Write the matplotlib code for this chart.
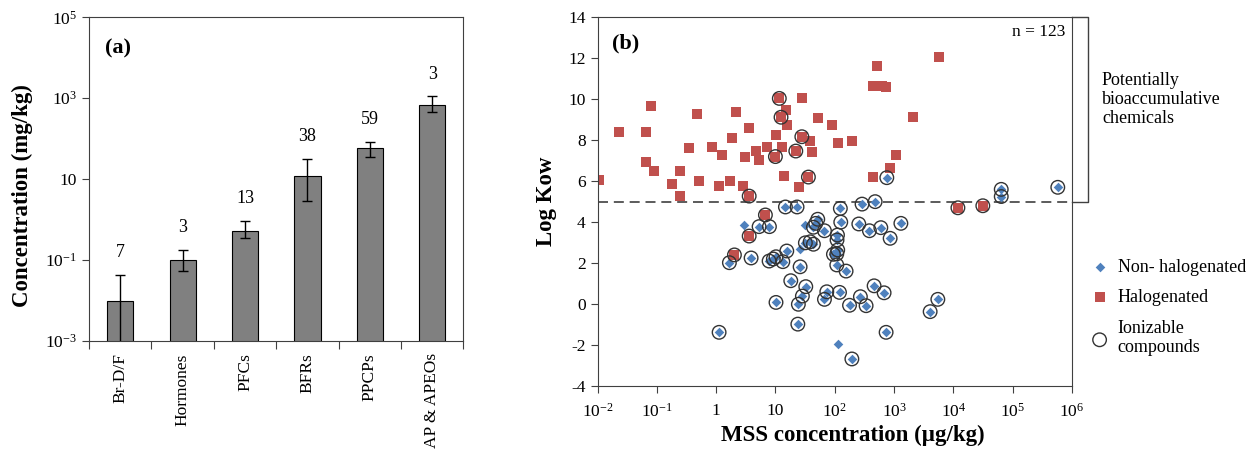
import numpy as np
import matplotlib.pyplot as plt
from matplotlib.ticker import NullLocator

plt.rcParams["font.family"] = ["Liberation Serif", "DejaVu Serif"]
plt.rcParams["mathtext.fontset"] = "custom"
plt.rcParams["mathtext.rm"] = "Liberation Serif"
plt.rcParams["mathtext.it"] = "Liberation Serif:italic"
plt.rcParams["mathtext.bf"] = "Liberation Serif:bold"
plt.rcParams["axes.unicode_minus"] = False

# Panel (a): concentraciones por grupo
categorias = ["Br-D/F", "Hormones", "PFCs", "BFRs", "PPCPs", "AP & APEOs"]
concentracion = np.array([0.0098, 0.10, 0.52, 11.7, 59.0, 660.0])
error_inferior = np.array([0.0004, 0.052, 0.35, 2.8, 35.0, 467.0])
error_superior = np.array([0.042, 0.176, 0.93, 31.6, 83.0, 1100.0])
n_compuestos = [7, 3, 13, 38, 59, 3]

# Panel (b): halogenados (x = MSS ug/kg, y = log Kow, ionizable 1/0)
hal_x = [0.0107, 0.023, 0.066, 0.080, 0.066, 0.090, 0.18, 0.25, 0.25, 0.35,
         0.48, 0.52, 0.84, 1.1, 1.24, 1.71, 1.83, 2.14, 2.8, 3.03,
         3.59, 3.6, 4.71, 5.3, 7.2, 9.97, 10.2, 11.6, 15.1, 12.4,
         15.8, 13.1, 14.1, 22.0, 28.4, 27.8, 38.4, 41.0, 25.3, 35.9,
         53.0, 89.0, 112.0, 196.0, 437.0, 510.0, 448.0, 620.0, 725.0, 857.0,
         1080.0, 2120.0, 5800.0, 11900.0, 31300.0, 6.76, 3.6, 2.03]
hal_y = [6.04, 8.4, 8.4, 9.65, 6.93, 6.48, 5.85, 5.29, 6.48, 7.63,
         9.26, 6.0, 7.68, 5.75, 7.27, 6.0, 8.09, 9.36, 5.76, 7.19,
         8.61, 5.27, 7.49, 7.03, 7.68, 7.2, 8.27, 10.04, 9.47, 9.12,
         8.74, 7.68, 6.25, 7.47, 10.04, 8.17, 7.96, 7.41, 5.7, 6.2,
         9.07, 8.76, 7.88, 7.96, 6.2, 11.62, 10.63, 10.63, 10.58, 6.63,
         7.27, 9.12, 12.05, 4.7, 4.8, 4.35, 3.32, 2.4]
hal_ion = [0, 0, 0, 0, 0, 0, 0, 0, 0, 0,
           0, 0, 0, 0, 0, 0, 0, 0, 0, 0,
           0, 1, 0, 0, 0, 1, 0, 1, 0, 1,
           0, 0, 0, 1, 0, 1, 0, 0, 0, 1,
           0, 0, 0, 0, 0, 0, 0, 0, 0, 0,
           0, 0, 0, 1, 1, 1, 1, 1]

# Panel (b): no halogenados
nohal_x = [14.7, 23.1, 124.0, 288.0, 479.0, 753.0, 64000.0, 64000.0, 575000.0, 2.99,
           5.29, 7.9, 31.6, 51.6, 43.6, 47.8, 66.9, 126.0, 254.0, 383.0,
           597.0, 1300.0, 857.0, 111.0, 109.0, 112.0, 94.8, 108.0, 108.0, 155.0,
           31.9, 38.4, 43.6, 26.0, 15.5, 10.2, 7.8, 13.3, 9.2, 3.88,
           1.67, 26.0, 18.1, 32.4, 28.4, 24.3, 10.2, 73.3, 66.9, 120.0,
           177.0, 270.0, 337.0, 460.0, 678.0, 23.8, 1.12, 733.0, 115.0, 194.0,
           4050.0, 5460.0]
nohal_y = [4.74, 4.74, 4.67, 4.88, 5.0, 6.17, 5.6, 5.25, 5.7, 3.86,
           3.78, 3.78, 3.86, 4.14, 3.75, 3.94, 3.58, 4.0, 3.91, 3.58,
           3.73, 3.94, 3.21, 3.37, 3.13, 2.64, 2.43, 2.45, 1.91, 1.61,
           2.99, 3.04, 2.92, 2.67, 2.59, 2.31, 2.1, 2.07, 2.2, 2.25,
           2.02, 1.82, 1.14, 0.85, 0.39, -0.01, 0.08, 0.6, 0.23, 0.57,
           -0.06, 0.36, -0.08, 0.89, 0.55, -0.98, -1.38, -1.38, -1.95, -2.68,
           -0.37, 0.23]
nohal_ion = [1, 1, 1, 1, 1, 1, 1, 1, 1, 0,
             1, 1, 0, 1, 1, 1, 1, 1, 1, 1,
             1, 1, 1, 1, 1, 1, 1, 1, 1, 1,
             1, 1, 1, 0, 1, 1, 1, 1, 1, 1,
             1, 1, 1, 1, 1, 1, 1, 1, 1, 1,
             1, 1, 1, 1, 1, 1, 1, 1, 0, 1,
             1, 1]

umbral_kow = 5
n_total = 123

x_ticks_b = [1e-2, 1e-1, 1, 10, 1e2, 1e3, 1e4, 1e5, 1e6]
x_labels_b = ["10$^{-2}$", "10$^{-1}$", "1", "10", "10$^{2}$", "10$^{3}$",
              "10$^{4}$", "10$^{5}$", "10$^{6}$"]
y_ticks_a = [1e-3, 1e-1, 10, 1e3, 1e5]
y_labels_a = ["10$^{-3}$", "10$^{-1}$", "10", "10$^{3}$", "10$^{5}$"]

COLOR_EJE = "#404040"
AZUL = "#4F81BD"
ROJO = "#C0504D"

fig = plt.figure(figsize=(12.47, 4.54), dpi=100)

# ---------------- Panel (a) ----------------
ax1 = fig.add_axes([0.0714, 0.2496, 0.3002, 0.7123])
x = np.arange(len(categorias))
ax1.bar(x, concentracion, width=0.42, color="#808080", edgecolor="black",
        linewidth=0.8, zorder=2)
yerr = [concentracion - error_inferior, error_superior - concentracion]
ax1.errorbar(x, concentracion, yerr=yerr, fmt="none", ecolor="black",
             elinewidth=1, capsize=3.5, capthick=1, zorder=3)
for xi, top, n in zip(x, error_superior, n_compuestos):
    ax1.annotate(str(n), (xi, top), xytext=(0, 16), textcoords="offset points",
                 ha="center", va="center", fontsize=13)

ax1.set_yscale("log")
ax1.set_ylim(1e-3, 1e5)
ax1.set_xlim(-0.5, len(categorias) - 0.5)
ax1.set_yticks(y_ticks_a)
ax1.set_yticklabels(y_labels_a)
ax1.yaxis.set_minor_locator(NullLocator())
ax1.set_xticks(np.arange(-0.5, len(categorias), 1))
ax1.set_xticklabels([])
ax1.set_xticks(x, minor=True)
ax1.set_xticklabels(categorias, minor=True, rotation=90, fontsize=12.5)
ax1.tick_params(axis="x", which="major", direction="out", length=6,
                color=COLOR_EJE)
ax1.tick_params(axis="x", which="minor", length=0, pad=9)
ax1.tick_params(axis="y", direction="out", length=5, labelsize=12.5,
                color=COLOR_EJE)
for s in ax1.spines.values():
    s.set_color(COLOR_EJE)
ax1.set_ylabel("Concentration (mg/kg)", fontsize=16.5, fontweight="bold")
ax1.yaxis.set_label_coords(-0.15, 0.45)
ax1.text(0.043, 0.905, "(a)", transform=ax1.transAxes, fontsize=16,
         fontweight="bold", ha="left", va="center")

# ---------------- Panel (b) ----------------
ax2 = fig.add_axes([0.4792, 0.1498, 0.3805, 0.8121])
hal_x = np.array(hal_x)
hal_y = np.array(hal_y)
nohal_x = np.array(nohal_x)
nohal_y = np.array(nohal_y)
ion_x = np.concatenate([hal_x[np.array(hal_ion) == 1], nohal_x[np.array(nohal_ion) == 1]])
ion_y = np.concatenate([hal_y[np.array(hal_ion) == 1], nohal_y[np.array(nohal_ion) == 1]])

ax2.axhline(umbral_kow, color=COLOR_EJE, ls=(0, (6, 3.5)), lw=1.2, zorder=1)
h_hal = ax2.scatter(hal_x, hal_y, marker="s", s=48, color=ROJO, linewidths=0,
                    zorder=2, label="Halogenated")
h_nohal = ax2.scatter(nohal_x, nohal_y, marker="D", s=24, color=AZUL,
                      linewidths=0, zorder=3, label="Non- halogenated")
h_ion = ax2.scatter(ion_x, ion_y, marker="o", s=95, facecolors="none",
                    edgecolors="#333333", linewidths=1.0, zorder=4,
                    label="Ionizable\ncompounds")

ax2.set_xscale("log")
ax2.set_xlim(1e-2, 1e6)
ax2.set_ylim(-4, 14)
ax2.set_xticks(x_ticks_b)
ax2.set_xticklabels(x_labels_b)
ax2.xaxis.set_minor_locator(NullLocator())
ax2.set_yticks(np.arange(-4, 15, 2))
ax2.tick_params(axis="both", direction="out", length=5, labelsize=12.5,
                color=COLOR_EJE)
ax2.tick_params(axis="x", pad=7)
for s in ax2.spines.values():
    s.set_color(COLOR_EJE)
ax2.set_xlabel("MSS concentration (µg/kg)", fontsize=16.5, fontweight="bold")
ax2.xaxis.set_label_coords(0.538, -0.105)
ax2.set_ylabel("Log Kow", fontsize=16.5, fontweight="bold")
ax2.yaxis.set_label_coords(-0.085, 0.5)

ax2.text(0.03, 0.93, "(b)", transform=ax2.transAxes, fontsize=16,
         fontweight="bold", ha="left", va="center")
ax2.text(0.985, 0.96, f"n = {n_total}", transform=ax2.transAxes, fontsize=12.5,
         ha="right", va="center")

# llave de "potencialmente bioacumulativos"
ax2.plot([1.0, 1.034, 1.034, 1.0], [14, 14, umbral_kow, umbral_kow],
         transform=ax2.get_yaxis_transform(), clip_on=False,
         color=COLOR_EJE, lw=1)
ax2.text(1.063, 10.0, "Potentially\nbioaccumulative\nchemicals",
         transform=ax2.get_yaxis_transform(), fontsize=13, ha="left",
         va="center", linespacing=1.15)

ax2.legend(handles=[h_nohal, h_hal, h_ion], loc="upper left",
           bbox_to_anchor=(1.02, 0.365), frameon=False, fontsize=13,
           handletextpad=0.4, labelspacing=0.75, borderaxespad=0,
           handlelength=1.2)

fig.savefig("out.png", dpi=100)
